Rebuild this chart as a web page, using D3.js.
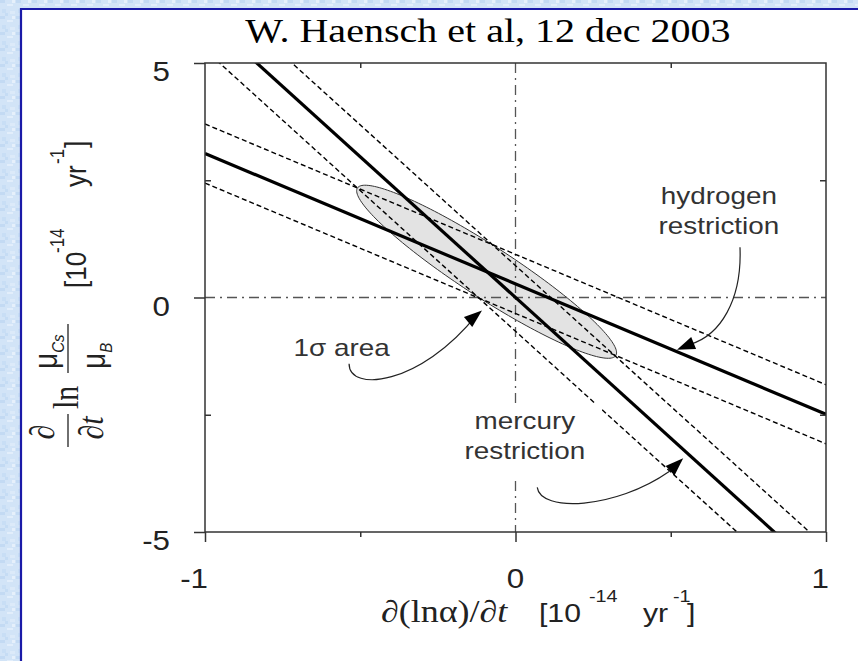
<!DOCTYPE html>
<html>
<head>
<meta charset="utf-8">
<script src="https://cdn.jsdelivr.net/npm/d3@7"></script>
<style>
  html, body { margin: 0; padding: 0; background: #fff; }
  svg { display: block; }
</style>
</head>
<body>
<svg id="chart" width="858" height="661"></svg>
<script>
// ---------------- data ----------------
const titleText = "W. Haensch et al, 12 dec 2003";
const xTicksMajor = [-1, 0, 1];
const xTicksMinor = [-0.5, 0.5];
const yTicksMajor = [-5, 0, 5];
const yTicksMinor = [-2.5, 2.5];
const xTickLabels = ["-1", "0", "1"];
const yTickLabels = ["-5", "0", "5"];

// restriction lines, read at x = -1 and x = +1
const lineIds    = ["hydrogenUpper", "hydrogen", "hydrogenLower", "mercuryUpper", "mercury", "mercuryLower"];
const lineKinds  = ["bound", "best", "bound", "bound", "best", "bound"];
const yAtXMinus1 = [3.70, 3.07, 2.44, 6.68, 6.00, 5.28];
const yAtXPlus1  = [-1.86, -2.49, -3.12, -5.32, -6.00, -6.72];

// 1-sigma ellipse: centre and two conjugate half-axes (data units)
const ellipseCenter = [-0.093, 0.549];
const ellipseHalfMajor = [0.416, -1.787];
const ellipseHalfMinor = [-0.046, -0.46];

// annotations (data units): label lines, text anchor, arrow path points, arrow tip
const annLabels = [["1σ area"], ["hydrogen", "restriction"], ["mercury", "restriction"]];
const annTextPos = [[-0.56, -1.24], [0.655, 2.0], [0.03, -2.80]];
const annCurves = [
  [[-0.536, -1.41], [-0.536, -2.03], [-0.308, -1.88], [-0.125, -0.37]],
  [[0.723, 1.07], [0.730, -0.06], [0.659, -0.81], [0.562, -1.00]],
  [[0.070, -4.05], [0.080, -4.58], [0.320, -4.52], [0.495, -3.71]]
];
const annTips = [[-0.108, -0.277], [0.520, -1.113], [0.540, -3.43]];

// ---------------- layout ----------------
const SX = 1.16; // horizontal stretch of the original raster text
const svg = d3.select("#chart");
const x = d3.scaleLinear().domain([-1, 1]).range([205, 826]);
const y = d3.scaleLinear().domain([-5, 5]).range([532, 63]);

// background texture
const defs = svg.append("defs");
const pat = defs.append("pattern").attr("id", "tex").attr("width", 16).attr("height", 16)
  .attr("patternUnits", "userSpaceOnUse");
pat.append("rect").attr("width", 16).attr("height", 16).attr("fill", "#d2e4f7");
[[0,0,5,3,"#c3daf3"],[7,4,6,2,"#e2eefb"],[2,9,4,4,"#c8def5"],[10,11,5,3,"#dceaf9"],[12,0,3,3,"#e6f0fb"],[5,13,3,3,"#c5dcf4"]]
  .forEach(r => pat.append("rect").attr("x", r[0]).attr("y", r[1]).attr("width", r[2]).attr("height", r[3]).attr("fill", r[4]));
svg.append("rect").attr("width", 858).attr("height", 661).attr("fill", "url(#tex)");
svg.append("rect").attr("x", 21).attr("y", 9).attr("width", 850).attr("height", 700).attr("fill", "#fff");
svg.append("line").attr("x1", 21).attr("x2", 21).attr("y1", 8).attr("y2", 661).attr("stroke", "#1a1aa8").attr("stroke-width", 2.2);
svg.append("line").attr("x1", 20).attr("x2", 858).attr("y1", 9).attr("y2", 9).attr("stroke", "#1a1aa8").attr("stroke-width", 2.2);

defs.append("clipPath").attr("id", "plotClip").append("rect")
  .attr("x", x(-1)).attr("y", y(5)).attr("width", x(1) - x(-1)).attr("height", y(-5) - y(5));

function sText(parent, px, py, str, o) {
  o = o || {};
  return parent.append("text")
    .attr("transform", `translate(${px},${py}) scale(${SX},1)`)
    .attr("text-anchor", o.anchor || "start")
    .attr("font-family", o.family || "'Liberation Sans', Arial, sans-serif")
    .attr("font-size", o.size || 24)
    .attr("font-style", o.style || "normal")
    .attr("fill", o.fill || "#222")
    .text(str);
}

// title
sText(svg, 488, 42, titleText, { anchor: "middle", family: "'Liberation Serif', 'Times New Roman', serif", size: 34.5, fill: "#000" });

const plot = svg.append("g");
const clipped = plot.append("g").attr("clip-path", "url(#plotClip)");

// ellipse
const ellPts = d3.range(0, 361, 2).map(a => {
  const t = a * Math.PI / 180;
  return [ellipseCenter[0] + Math.cos(t) * ellipseHalfMajor[0] + Math.sin(t) * ellipseHalfMinor[0],
          ellipseCenter[1] + Math.cos(t) * ellipseHalfMajor[1] + Math.sin(t) * ellipseHalfMinor[1]];
});
clipped.append("path")
  .attr("d", d3.line().x(d => x(d[0])).y(d => y(d[1])).curve(d3.curveLinearClosed)(ellPts))
  .attr("fill", "#e3e3e3").attr("stroke", "#333").attr("stroke-width", 1);

// zero dash-dot lines
clipped.append("line").attr("x1", x(0)).attr("x2", x(0)).attr("y1", y(5)).attr("y2", y(-5))
  .attr("stroke", "#555").attr("stroke-width", 1.3).attr("stroke-dasharray", "10,5,2,5");
clipped.append("line").attr("x1", x(-1)).attr("x2", x(1)).attr("y1", y(0)).attr("y2", y(0))
  .attr("stroke", "#555").attr("stroke-width", 1.3).attr("stroke-dasharray", "10,5,2,5");

// restriction lines
const lineGen = d3.line().x(d => x(d[0])).y(d => y(d[1]));
lineIds.forEach((id, i) => {
  const best = lineKinds[i] === "best";
  clipped.append("path")
    .attr("d", lineGen([[-1, yAtXMinus1[i]], [1, yAtXPlus1[i]]]))
    .attr("fill", "none").attr("stroke", "#000")
    .attr("stroke-width", best ? 3.2 : 1.4)
    .attr("stroke-dasharray", best ? null : "5,3");
});

// frame and ticks
plot.append("rect").attr("x", x(-1)).attr("y", y(5)).attr("width", x(1) - x(-1)).attr("height", y(-5) - y(5))
  .attr("fill", "none").attr("stroke", "#333").attr("stroke-width", 1.5);
function styleAxis(g) {
  g.select(".domain").remove();
  g.selectAll(".tick line").attr("stroke", "#333").attr("stroke-width", 1.5);
  g.selectAll(".tick text").remove();
}
plot.append("g").attr("transform", `translate(${x(-1)},0)`).call(d3.axisLeft(y).tickValues(yTicksMajor).tickSize(11)).call(styleAxis);
plot.append("g").attr("transform", `translate(${x(-1)},0)`).call(d3.axisLeft(y).tickValues(yTicksMinor).tickSize(-6)).call(styleAxis);
plot.append("g").attr("transform", `translate(${x(1)},0)`).call(d3.axisRight(y).tickValues(yTicksMinor).tickSize(-6)).call(styleAxis);
plot.append("g").attr("transform", `translate(0,${y(-5)})`).call(d3.axisBottom(x).tickValues(xTicksMajor).tickSize(10)).call(styleAxis);
plot.append("g").attr("transform", `translate(0,${y(-5)})`).call(d3.axisBottom(x).tickValues(xTicksMinor).tickSize(5)).call(styleAxis);
plot.append("g").attr("transform", `translate(0,${y(5)})`).call(d3.axisTop(x).tickValues(xTicksMinor).tickSize(-5)).call(styleAxis);

// tick labels
yTicksMajor.forEach((v, i) => sText(plot, 170, y(v) + 18, yTickLabels[i], { anchor: "end", size: 27 }));
xTicksMajor.forEach((v, i) => {
  const anchor = i === 1 ? "middle" : "end";
  const dx = i === 1 ? 0 : 3;
  sText(plot, x(v) + dx, 588, xTickLabels[i], { anchor: anchor, size: 27 });
});

// x axis title
const serif = "'Liberation Serif', 'Times New Roman', serif";
const xt = sText(plot, 381, 622, "", { family: serif, size: 31, fill: "#222" });
xt.append("tspan").text("∂(lnα)/∂");
xt.append("tspan").attr("font-style", "italic").text("t");
sText(plot, 539, 622, "[10", { size: 26 });
sText(plot, 589, 602, "-14", { size: 17 });
sText(plot, 643, 622, "yr", { size: 26 });
sText(plot, 673, 602, "-1", { size: 17 });
sText(plot, 687, 622, "]", { size: 26 });

// y axis title (rotated)
const yl = plot.append("g").attr("transform", `translate(0,0)`);
function rText(screenX, screenY, str, o) {
  // baseline at screenX, text starts (bottom) at screenY, reading upward
  o = o || {};
  return yl.append("text")
    .attr("transform", `translate(${screenX},${screenY}) scale(${SX},1) rotate(-90)`)
    .attr("text-anchor", o.anchor || "start")
    .attr("font-family", o.family || "'Liberation Sans', Arial, sans-serif")
    .attr("font-size", o.size || 26)
    .attr("font-style", o.style || "normal")
    .attr("fill", "#222")
    .text(str);
}
rText(86, 288, "[10");
rText(64, 253, "-14", { size: 17 });
rText(86, 187, "yr");
rText(64, 164, "-1", { size: 17 });
rText(86, 148, "]");
// d/dt fraction
rText(54, 432, "∂", { family: serif, size: 30, anchor: "middle" });
yl.append("line").attr("x1", 68).attr("x2", 68).attr("y1", 447).attr("y2", 414).attr("stroke", "#222").attr("stroke-width", 1.3);
const dt = rText(103, 428, "", { family: serif, size: 30, anchor: "middle" });
dt.append("tspan").text("∂");
dt.append("tspan").attr("font-style", "italic").text("t");
rText(78, 409, "ln", { family: serif, size: 30 });
// mu fraction
const num = rText(57, 369, "μ", { size: 28 });
num.append("tspan").attr("font-size", 15).attr("font-style", "italic").attr("dy", 6).text("Cs");
yl.append("line").attr("x1", 68).attr("x2", 68).attr("y1", 373).attr("y2", 324).attr("stroke", "#222").attr("stroke-width", 1.3);
const den = rText(105, 369, "μ", { size: 28 });
den.append("tspan").attr("font-size", 15).attr("font-style", "italic").attr("dy", 6).text("B");

// annotations
svg.append("rect").attr("x", 460).attr("y", 403).attr("width", 142).attr("height", 76).attr("fill", "#fff");
annLabels.forEach((lines, i) => {
  const p = annTextPos[i];
  lines.forEach((s, j) => sText(svg, x(p[0]), y(p[1]) + j * 30, s, { anchor: "middle", size: 24, fill: "#333" }));
  const c = annCurves[i].map(d => [x(d[0]), y(d[1])]);
  const path = d3.path();
  path.moveTo(c[0][0], c[0][1]);
  path.bezierCurveTo(c[1][0], c[1][1], c[2][0], c[2][1], c[3][0], c[3][1]);
  svg.append("path").attr("d", path.toString()).attr("fill", "none").attr("stroke", "#222").attr("stroke-width", 1.2);
  const tip = [x(annTips[i][0]), y(annTips[i][1])];
  const base = c[3];
  const ang = Math.atan2(tip[1] - base[1], tip[0] - base[0]);
  const len = 18, w = 6.5;
  const bx = tip[0] - len * Math.cos(ang), by = tip[1] - len * Math.sin(ang);
  const head = [[tip[0], tip[1]],
    [bx + w * Math.sin(ang), by - w * Math.cos(ang)],
    [bx - w * Math.sin(ang), by + w * Math.cos(ang)]];
  svg.append("path").attr("d", d3.line()(head) + "Z").attr("fill", "#000");
});
</script>
</body>
</html>
